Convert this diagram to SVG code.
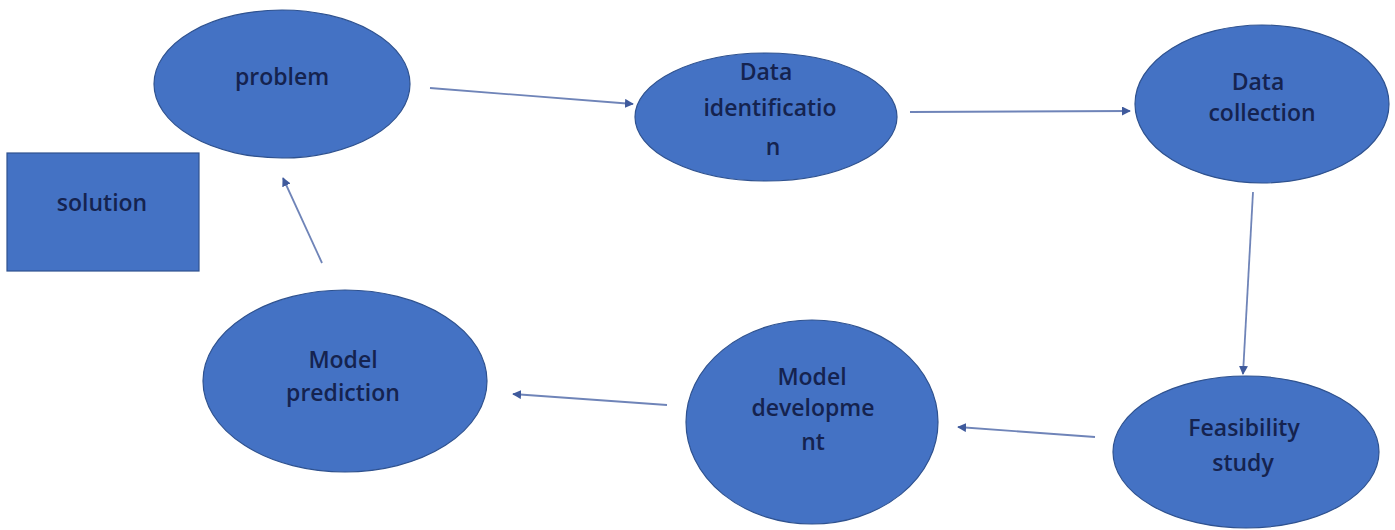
<svg xmlns="http://www.w3.org/2000/svg" width="1395" height="530" viewBox="0 0 1395 530">
<style>
.node{fill:#4472C4;stroke:#2F528F;stroke-width:1.2}
.lbl{font-family:"Open Sans","Liberation Sans",sans-serif;font-size:23px;font-weight:600;fill:#15234f;text-anchor:middle}
.edge{stroke:#6f84b8;stroke-width:1.8;fill:none;marker-end:url(#ah)}
</style>
<defs>
<marker id="ah" viewBox="0 0 10 10" refX="9" refY="5" markerWidth="5" markerHeight="5" orient="auto" markerUnits="strokeWidth">
<path d="M0,0 L10,5 L0,10 z" fill="#3f5a9c"/>
</marker>
</defs>
<rect width="1395" height="530" fill="#ffffff"/>
<g id="connectors">
<line class="edge" x1="430" y1="88" x2="633" y2="104"/>
<line class="edge" x1="910" y1="112" x2="1130" y2="111"/>
<line class="edge" x1="1253" y1="192" x2="1243" y2="374"/>
<line class="edge" x1="1095" y1="437" x2="958" y2="427"/>
<line class="edge" x1="667" y1="405" x2="513" y2="394"/>
<line class="edge" x1="322" y1="263" x2="283" y2="178"/>
</g>
<g id="problem">
<ellipse class="node" cx="282" cy="84" rx="128" ry="74"/>
<text class="lbl" x="282" y="85">problem</text>
</g>
<g id="solution">
<rect class="node" x="7" y="153" width="192" height="118"/>
<text class="lbl" x="102" y="211">solution</text>
</g>
<g id="data-identification">
<ellipse class="node" cx="766" cy="117" rx="131" ry="64"/>
<text class="lbl" x="766" y="80">Data</text>
<text class="lbl" x="770" y="116">identificatio</text>
<text class="lbl" x="773" y="155">n</text>
</g>
<g id="data-collection">
<ellipse class="node" cx="1262" cy="104" rx="127" ry="79"/>
<text class="lbl" x="1258" y="90">Data</text>
<text class="lbl" x="1262" y="121">collection</text>
</g>
<g id="feasibility-study">
<ellipse class="node" cx="1246" cy="452" rx="133" ry="76"/>
<text class="lbl" x="1244" y="436">Feasibility</text>
<text class="lbl" x="1243" y="471">study</text>
</g>
<g id="model-development">
<ellipse class="node" cx="812" cy="422" rx="126" ry="102"/>
<text class="lbl" x="812" y="385">Model</text>
<text class="lbl" x="813" y="416">developme</text>
<text class="lbl" x="813" y="450">nt</text>
</g>
<g id="model-prediction">
<ellipse class="node" cx="345" cy="381" rx="142" ry="91"/>
<text class="lbl" x="343" y="368">Model</text>
<text class="lbl" x="343" y="401">prediction</text>
</g>
</svg>
